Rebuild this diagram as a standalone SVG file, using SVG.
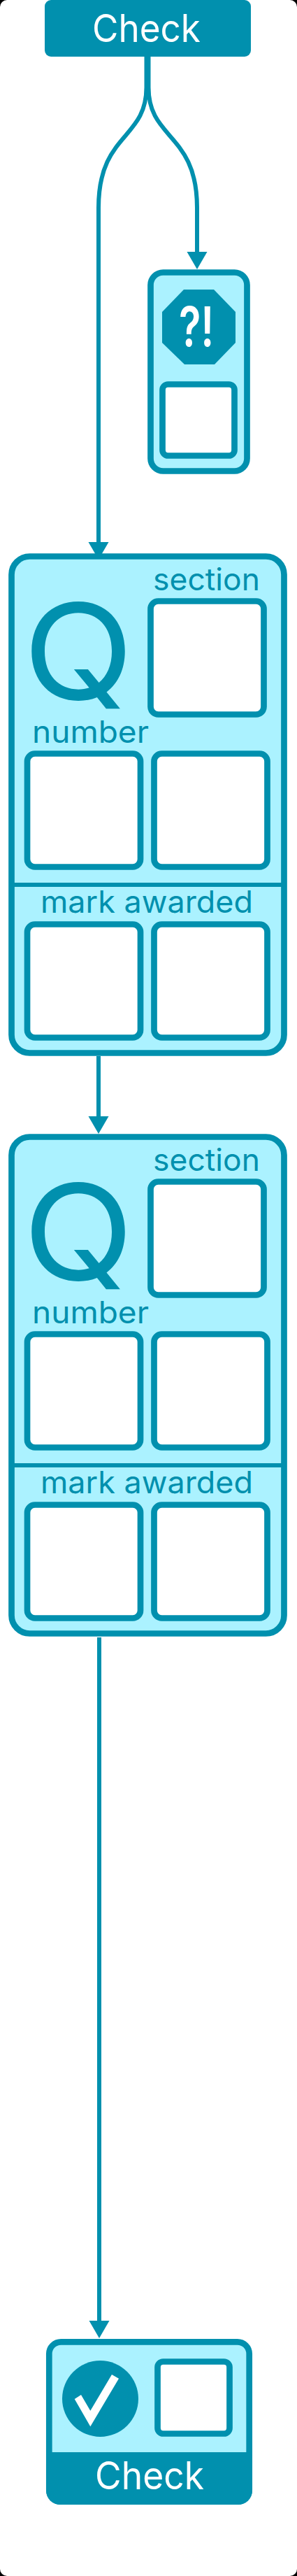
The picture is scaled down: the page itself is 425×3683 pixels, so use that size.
<svg xmlns="http://www.w3.org/2000/svg" width="425" height="3683" viewBox="0 0 425 3683">
<style>
.frame{fill:#abf2ff;stroke:#0190ae;stroke-width:8.7}
.slot{fill:#fff;stroke:#0190ae;stroke-width:8.7}
.edge{fill:none;stroke:#0190ae;stroke-width:6}
.dark{fill:#0190ae}
text{font-family:"Inter","Open Sans",sans-serif}
.lbl{font-size:44px;fill:#0190ae}
.hdr{font-size:55px;fill:#fff}
.big{font-size:190px;font-weight:400;fill:#0190ae}
</style>
<defs>
<marker id="head" markerUnits="userSpaceOnUse" markerWidth="30" markerHeight="32" refX="0" refY="15" orient="auto" overflow="visible"><path d="M0 0.5L25 15L0 29.5Z" fill="#0190ae"/></marker>
</defs>
<rect width="425" height="3683" fill="#000"/>
<rect width="425" height="3683" rx="10" fill="#fff"/>
<g id="connectors">
<path class="edge" marker-end="url(#head)" d="M209.5 81V125C209.5 200 141 190 141 297V775"/>
<path class="edge" marker-end="url(#head)" d="M212.5 81V125C212.5 200 282 190 282 297V360"/>
<path class="edge" marker-end="url(#head)" d="M141 1510V1596"/>
<path class="edge" marker-end="url(#head)" d="M142 2341V3318"/>
</g>
<g id="start">
<rect class="dark" x="64" y="0" width="295" height="81" rx="9"/>
<text class="hdr" x="132" y="60" textLength="155" lengthAdjust="spacingAndGlyphs">Check</text>
</g>
<g id="alert">
<rect class="frame" x="215.5" y="389.5" width="138" height="284" rx="18"/>
<polygon class="dark" points="263,414 306,414 337,446 337,490 307,521 264,521 232,490 232,446"/>
<text x="256" y="495" font-size="78" font-weight="600" fill="#fff" textLength="50" lengthAdjust="spacingAndGlyphs">?!</text>
<rect class="slot" x="232.5" y="549.5" width="103" height="102" rx="8"/>
</g>
<g id="question-1">
<rect class="frame" x="16.5" y="795.5" width="390" height="710" rx="26"/>
<text class="lbl" x="219" y="844" textLength="153" lengthAdjust="spacingAndGlyphs">section</text>
<text class="big" x="33" y="1000" textLength="158" lengthAdjust="spacingAndGlyphs">Q</text>
<rect class="slot" x="215.5" y="859.5" width="162" height="162" rx="11"/>
<text class="lbl" x="46" y="1062" textLength="167" lengthAdjust="spacingAndGlyphs">number</text>
<rect class="slot" x="39" y="1077.5" width="162" height="162" rx="11"/>
<rect class="slot" x="220.5" y="1077.5" width="162" height="162" rx="11"/>
<path class="edge" d="M16.5 1265H406.5"/>
<text class="lbl" x="58" y="1305" textLength="304" lengthAdjust="spacingAndGlyphs">mark awarded</text>
<rect class="slot" x="39" y="1321.5" width="162" height="162" rx="11"/>
<rect class="slot" x="220.5" y="1321.5" width="162" height="162" rx="11"/>
</g>
<g id="question-2" transform="translate(0 830)">
<rect class="frame" x="16.5" y="795.5" width="390" height="710" rx="26"/>
<text class="lbl" x="219" y="844" textLength="153" lengthAdjust="spacingAndGlyphs">section</text>
<text class="big" x="33" y="1000" textLength="158" lengthAdjust="spacingAndGlyphs">Q</text>
<rect class="slot" x="215.5" y="859.5" width="162" height="162" rx="11"/>
<text class="lbl" x="46" y="1062" textLength="167" lengthAdjust="spacingAndGlyphs">number</text>
<rect class="slot" x="39" y="1077.5" width="162" height="162" rx="11"/>
<rect class="slot" x="220.5" y="1077.5" width="162" height="162" rx="11"/>
<path class="edge" d="M16.5 1265H406.5"/>
<text class="lbl" x="58" y="1305" textLength="304" lengthAdjust="spacingAndGlyphs">mark awarded</text>
<rect class="slot" x="39" y="1321.5" width="162" height="162" rx="11"/>
<rect class="slot" x="220.5" y="1321.5" width="162" height="162" rx="11"/>
</g>
<g id="end">
<rect class="frame" x="70.3" y="3348.3" width="286.4" height="228.4" rx="17"/>
<path class="dark" d="M66 3506H361V3561A20 20 0 0 1 341 3581H86A20 20 0 0 1 66 3561Z"/>
<circle class="dark" cx="143.5" cy="3429.5" r="54.5"/>
<polygon fill="#fff" points="106.7,3430 116,3424 129.3,3446.7 160,3395 170,3400.7 129.3,3469.3"/>
<rect class="slot" x="225.5" y="3376.5" width="103" height="103" rx="8"/>
<text class="hdr" x="136" y="3559" textLength="156" lengthAdjust="spacingAndGlyphs">Check</text>
</g>
</svg>
